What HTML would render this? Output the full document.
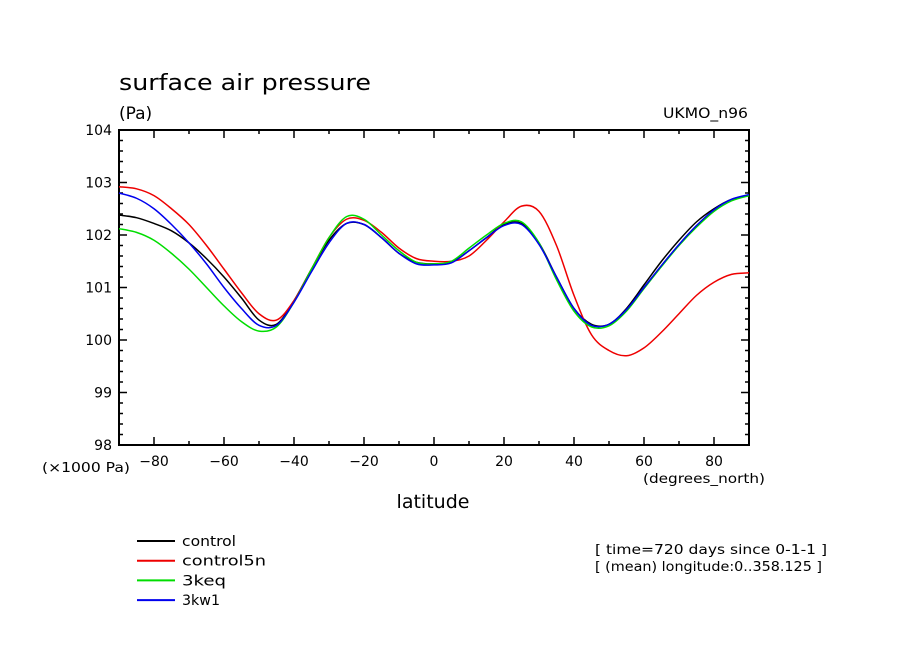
<!DOCTYPE html>
<html><head><meta charset="utf-8"><style>
body{margin:0;background:#fff}
svg text{font-family:"DejaVu Sans","Liberation Sans",sans-serif;fill:#000}
</style></head><body>
<svg width="904" height="654" viewBox="0 0 904 654">
<text x="119" y="90" font-size="22" textLength="252" lengthAdjust="spacingAndGlyphs">surface air pressure</text>
<text x="119" y="119" font-size="17">(Pa)</text>
<text x="663" y="118" font-size="14" textLength="85" lengthAdjust="spacingAndGlyphs">UKMO_n96</text>
<g id="axes"></g>
<g id="series"></g>
<text x="42" y="472" font-size="13" textLength="88" lengthAdjust="spacingAndGlyphs">(×1000 Pa)</text>
<text x="643" y="483" font-size="13" textLength="122" lengthAdjust="spacingAndGlyphs">(degrees_north)</text>
<text x="433" y="508" font-size="19" text-anchor="middle">latitude</text>
<g id="legend"></g>
<text x="595" y="554" font-size="13" textLength="232" lengthAdjust="spacingAndGlyphs">[ time=720 days since 0-1-1 ]</text>
<text x="595" y="571" font-size="13" textLength="227" lengthAdjust="spacingAndGlyphs">[ (mean) longitude:0..358.125 ]</text>
</svg>
<script>
const lats=[-90,-85,-80,-75,-70,-65,-60,-55,-50,-45,-40,-35,-30,-25,-20,-15,-10,-5,0,5,10,15,20,25,30,35,40,45,50,55,60,65,70,75,80,85,90];
const control=[102.38,102.33,102.22,102.08,101.85,101.55,101.2,100.8,100.38,100.3,100.75,101.35,101.9,102.22,102.2,101.95,101.65,101.48,101.45,101.48,101.7,101.95,102.2,102.22,101.85,101.2,100.6,100.3,100.3,100.6,101.05,101.5,101.9,102.25,102.5,102.68,102.75];
const control5n=[102.92,102.88,102.75,102.5,102.2,101.8,101.35,100.9,100.5,100.38,100.75,101.35,101.95,102.3,102.28,102.05,101.75,101.55,101.5,101.5,101.6,101.9,102.25,102.55,102.45,101.8,100.85,100.1,99.8,99.7,99.85,100.15,100.5,100.85,101.1,101.25,101.28];
const keq3=[102.12,102.05,101.9,101.65,101.35,101.0,100.65,100.35,100.17,100.25,100.72,101.35,101.95,102.35,102.3,102.0,101.7,101.48,101.45,101.5,101.75,102.0,102.22,102.25,101.85,101.15,100.55,100.25,100.27,100.55,100.98,101.4,101.8,102.15,102.45,102.65,102.75];
const kw1=[102.8,102.7,102.5,102.2,101.85,101.45,101.0,100.6,100.28,100.28,100.72,101.3,101.85,102.22,102.2,101.95,101.65,101.45,101.43,101.47,101.7,101.95,102.18,102.2,101.82,101.2,100.6,100.28,100.3,100.58,101.0,101.42,101.82,102.18,102.48,102.68,102.77];
const xTicks=[-80,-60,-40,-20,0,20,40,60,80];
const yTicks=[98,99,100,101,102,103,104];
const seriesNames=["control","control5n","3keq","3kw1"];
const seriesColors=["#000","#e00","#0d0","#00e"];
const seriesData=[control,control5n,keq3,kw1];

const L=119,R=749,T=130,B=445;
const xs=v=>L+(v+90)/180*(R-L);
const ys=v=>B-(v-98)/6*(B-T);
const NS="http://www.w3.org/2000/svg";
function mk(tag,attrs,parent){const e=document.createElementNS(NS,tag);for(const k in attrs)e.setAttribute(k,attrs[k]);parent.appendChild(e);return e;}
const ax=document.getElementById('axes');
let r=mk('rect',{x:L,y:T,width:R-L,height:B-T,fill:'none',stroke:'#000','stroke-width':2},ax);


let d='';
for(let v=-90;v<=90;v+=10){const x=xs(v);const len=(v%20===0)?8:4;d+=`M${x},${B}v${-len}M${x},${T}v${len}`;}
for(let i=0;i<=30;i++){const v=98+i*0.2;const y=ys(v);const len=(i%5===0)?8:4;d+=`M${L},${y}h${len}M${R},${y}h${-len}`;}
let tk=mk('path',{d:d,stroke:'#000','stroke-width':1.5,fill:'none'},ax);


xTicks.forEach(v=>{const t=mk('text',{x:xs(v),y:466,'font-size':14,'text-anchor':'middle'},ax);t.textContent=(v<0?'\u2212':'')+Math.abs(v);

});
yTicks.forEach(v=>{const t=mk('text',{x:112,y:ys(v)+5,'font-size':14,'text-anchor':'end'},ax);t.textContent=v;

});
function smooth(pts){let p='M'+pts[0][0]+','+pts[0][1];for(let i=0;i<pts.length-1;i++){const p0=pts[Math.max(0,i-1)],p1=pts[i],p2=pts[i+1],p3=pts[Math.min(pts.length-1,i+2)];
const c1=[p1[0]+(p2[0]-p0[0])/6,p1[1]+(p2[1]-p0[1])/6],c2=[p2[0]-(p3[0]-p1[0])/6,p2[1]-(p3[1]-p1[1])/6];
p+=`C${c1[0]},${c1[1]} ${c2[0]},${c2[1]} ${p2[0]},${p2[1]}`;}return p;}
const sg=document.getElementById('series');
const lg=document.getElementById('legend');
const legendWidths=[54,84,44,38];
seriesData.forEach((arr,i)=>{
 const pts=lats.map((la,j)=>[xs(la),ys(arr[j])]);
 const p=mk('path',{d:smooth(pts),fill:'none',stroke:seriesColors[i],'stroke-width':1.5},sg);
 
 
 const y=541+i*19.7;
 const ln=mk('line',{x1:137,x2:175,y1:y,y2:y,stroke:seriesColors[i],'stroke-width':2},lg);
 
 
 const t=mk('text',{x:182,y:y+5,'font-size':14,textLength:legendWidths[i],lengthAdjust:'spacingAndGlyphs'},lg);t.textContent=seriesNames[i];
 
 
});
</script>
</body></html>
